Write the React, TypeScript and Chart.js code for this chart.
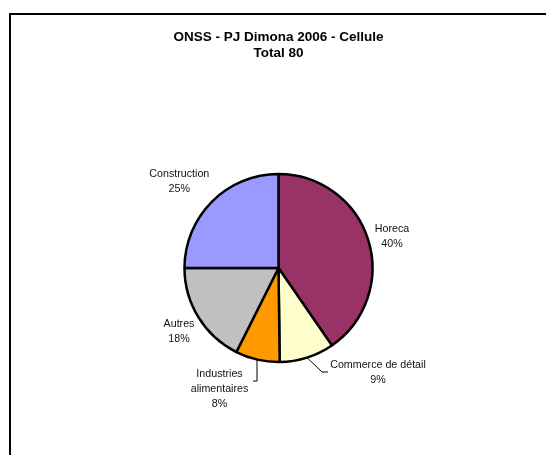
import React, { useEffect, useRef } from "react";
import { Chart, registerables } from "chart.js";

Chart.register(...registerables);

const titleLines = ["ONSS - PJ Dimona 2006 - Cellule", "Total 80"];
const categories = ["Horeca", "Commerce de détail", "Industries alimentaires", "Autres", "Construction"];
const shares = [40.4, 9.4, 7.6, 17.6, 25.0];
const sliceColors = ["#993366", "#FFFFCC", "#FF9900", "#C0C0C0", "#9999FF"];

// label layout (offsets from the pie centre), text lines per slice
const labelLines = [["Horeca"], ["Commerce de détail"], ["Industries", "alimentaires"], ["Autres"], ["Construction"]];
const labelOffsets = [
  [113.5, -35.7],
  [99.5, 100],
  [-59, 109.3],
  [-99.5, 59.3],
  [-99.2, -90.7],
];
// leader lines: [elbow, end] offsets from centre, or null; vertical = start straight above elbow
const leaders: ({ pts: number[][]; vertical: boolean } | null)[] = [
  null,
  { pts: [[43.5, 104], [49.5, 104]], vertical: false },
  { pts: [[-21.5, 113], [-25.5, 113]], vertical: true },
  null,
  null,
];

const decorPlugin = {
  id: "decor",
  afterDraw(chart: any) {
    const ctx = chart.ctx;
    ctx.save();
    // frame
    ctx.strokeStyle = "#000";
    ctx.lineWidth = 2;
    ctx.beginPath();
    ctx.moveTo(10, 600);
    ctx.lineTo(10, 14);
    ctx.lineTo(700, 14);
    ctx.stroke();
    // title
    ctx.fillStyle = "#000";
    ctx.textAlign = "center";
    ctx.textBaseline = "alphabetic";
    ctx.font = "bold 13.5px 'Liberation Sans', Arial, sans-serif";
    const cx0 = (chart.chartArea.left + chart.chartArea.right) / 2;
    ctx.fillText(titleLines[0], cx0, 40.7);
    ctx.fillText(titleLines[1], cx0, 57.3);

    // data labels
    const meta = chart.getDatasetMeta(0);
    const data = chart.data.datasets[0].data as number[];
    const total = data.reduce((a, b) => a + b, 0);
    ctx.font = "10.7px 'Liberation Sans', Arial, sans-serif";
    ctx.fillStyle = "#111";
    meta.data.forEach((arc: any, i: number) => {
      const { x, y, outerRadius, startAngle, endAngle } = arc.getProps(
        ["x", "y", "outerRadius", "startAngle", "endAngle"],
        true
      );
      const lines = [...labelLines[i], Math.round((data[i] / total) * 100) + "%"];
      const lx = x + labelOffsets[i][0];
      const ly = y + labelOffsets[i][1];
      lines.forEach((t, k) => ctx.fillText(t, lx, ly + k * 15));
      const ld = leaders[i];
      if (ld) {
        const mid = (startAngle + endAngle) / 2;
        let sx = x + Math.cos(mid) * outerRadius;
        let sy = y + Math.sin(mid) * outerRadius;
        if (ld.vertical) {
          const dx = ld.pts[0][0];
          sx = x + dx;
          sy = y + Math.sqrt(outerRadius * outerRadius - dx * dx);
        }
        ctx.strokeStyle = "#000";
        ctx.lineWidth = 1;
        ctx.beginPath();
        ctx.moveTo(sx, sy);
        ctx.lineTo(x + ld.pts[0][0], y + ld.pts[0][1]);
        ctx.lineTo(x + ld.pts[1][0], y + ld.pts[1][1]);
        ctx.stroke();
      }
    });
    ctx.restore();
  },
};

export default function App() {
  const ref = useRef<HTMLCanvasElement>(null);
  useEffect(() => {
    if (!ref.current) return;
    const chart = new Chart(ref.current, {
      type: "pie",
      data: {
        labels: categories,
        datasets: [
          {
            data: shares,
            backgroundColor: sliceColors,
            borderColor: "#000",
            borderWidth: 2.5,
          },
        ],
      },
      options: {
        animation: false,
        responsive: false,
        radius: 94,
        layout: { padding: { left: 20, right: 9, top: 90, bottom: 9 } },
        plugins: {
          legend: { display: false },
          title: { display: false },
          tooltip: { enabled: false },
        },
        events: [],
      } as any,
      plugins: [decorPlugin],
    });
    return () => chart.destroy();
  }, []);
  return (
    <div style={{ position: "fixed", left: 0, top: 0, width: 546, height: 455, background: "#fff" }}>
      <canvas ref={ref} width={546} height={455} style={{ display: "block" }} />
    </div>
  );
}
